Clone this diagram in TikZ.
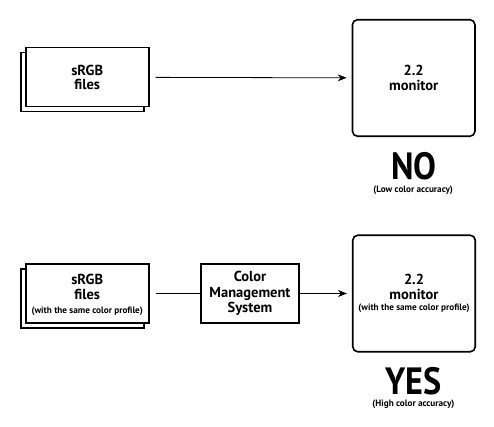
\documentclass[tikz,border=0pt]{standalone}
\usepackage{fontspec}
\setmainfont{PT Sans}
\newfontfamily\verdictfont[FakeStretch=0.9]{PT Sans}
\usepackage{tikz}
\usetikzlibrary{arrows.meta,shadows}

\newcommand{\notesize}{\fontsize{9.2}{10}\selectfont}

\tikzset{
  box/.style={draw, line width=1.6pt, fill=white, inner sep=0pt, align=center,
    font=\bfseries\fontsize{14.5}{14.5}\selectfont},
  files/.style={box, minimum width=123pt, minimum height=59pt,
    copy shadow={shadow xshift=-5pt, shadow yshift=-5pt, draw=black, fill=white, line width=1.6pt}},
  cmsbox/.style={box, minimum width=98pt, minimum height=58.5pt,
    font=\bfseries\fontsize{14.5}{15.5}\selectfont},
  monitor/.style={box, rounded corners=5pt, minimum width=122.5pt, minimum height=116.5pt},
  verdict/.style={inner sep=0pt, anchor=base, font=\verdictfont\bfseries\fontsize{38}{38}\selectfont},
  note/.style={inner sep=0pt, font=\bfseries\notesize}
}

\begin{document}
\begin{tikzpicture}[x=1pt, y=-1pt]
  \useasboundingbox (0,0) rectangle (494,427);
  % without colour management
  \node[files] (f1) at (87.2,77.2) {sRGB\\files};
  \node[monitor] (mon1) at (413.7,78) {2.2\\monitor};
  \node[verdict] (no) at (413.7,179.3) {NO};
  \node[note] (low) at (413.2,190) {(Low color accuracy)};
  % with colour management
  \node[files] (f2) at (87.2,293.5) {\rule{0pt}{14pt}sRGB\\files\\{\notesize (with the same color profile)}};
  \node[cmsbox] (cms) at (250,293.5) {Color\\Management\\System};
  \node[monitor] (mon2) at (414,293.5) {2.2\\monitor\\[-3pt]{\notesize (with the same color profile)}};
  \node[verdict] (yes) at (413.7,394.3) {YES};
  \node[note] (high) at (413.4,404.5) {(High color accuracy)};
  \path[-{Stealth[length=9pt,width=7pt]}, line width=0.8pt]
    (f1) edge[shorten <=6pt, shorten >=5pt] (mon1)
    (f2) edge[-, shorten <=6pt] (cms)
    (cms) edge[shorten >=5pt] (mon2);
\end{tikzpicture}
\end{document}
